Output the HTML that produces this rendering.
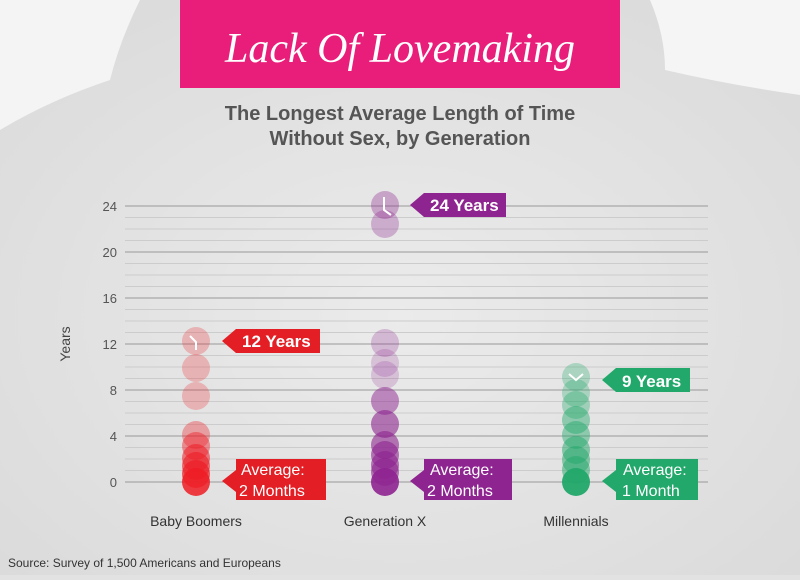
<!DOCTYPE html>
<html><head><meta charset="utf-8"><style>
body{margin:0;width:800px;height:575px;overflow:hidden;background:#e2e2e2;font-family:"Liberation Sans",sans-serif}
</style></head><body>
<svg width="800" height="575" xmlns="http://www.w3.org/2000/svg">
<defs><radialGradient id="bg" cx="50%" cy="55%" r="70%"><stop offset="0" stop-color="#ebebeb"/><stop offset="1" stop-color="#dadada"/></radialGradient></defs>
<rect width="800" height="575" fill="url(#bg)"/>
<path d="M0 0 H140 Q120 40 110 80 Q50 100 0 130Z" fill="#f4f4f4"/>
<path d="M800 0 H650 Q665 35 665 70 Q730 85 800 95Z" fill="#f5f5f5"/>
<rect x="180" y="0" width="440" height="88" fill="#e91e7a"/>
<text x="400" y="62" text-anchor="middle" fill="#fff" font-family="Liberation Serif,serif" font-style="italic" font-size="42">Lack Of Lovemaking</text>
<text x="400" y="120" text-anchor="middle" fill="#555" font-weight="bold" font-size="20">The Longest Average Length of Time</text>
<text x="400" y="145" text-anchor="middle" fill="#555" font-weight="bold" font-size="20">Without Sex, by Generation</text>
<g stroke="#ccc" stroke-width="1">
<line x1="125" x2="708" y1="217.5" y2="217.5"/><line x1="125" x2="708" y1="229" y2="229"/><line x1="125" x2="708" y1="240.5" y2="240.5"/>
<line x1="125" x2="708" y1="263.5" y2="263.5"/><line x1="125" x2="708" y1="275" y2="275"/><line x1="125" x2="708" y1="286.5" y2="286.5"/>
<line x1="125" x2="708" y1="309.5" y2="309.5"/><line x1="125" x2="708" y1="321" y2="321"/><line x1="125" x2="708" y1="332.5" y2="332.5"/>
<line x1="125" x2="708" y1="355.5" y2="355.5"/><line x1="125" x2="708" y1="367" y2="367"/><line x1="125" x2="708" y1="378.5" y2="378.5"/>
<line x1="125" x2="708" y1="401.5" y2="401.5"/><line x1="125" x2="708" y1="413" y2="413"/><line x1="125" x2="708" y1="424.5" y2="424.5"/>
<line x1="125" x2="708" y1="447.5" y2="447.5"/><line x1="125" x2="708" y1="459" y2="459"/><line x1="125" x2="708" y1="470.5" y2="470.5"/>
</g>
<g stroke="#999" stroke-width="1">
<line x1="125" x2="708" y1="206" y2="206"/><line x1="125" x2="708" y1="252" y2="252"/><line x1="125" x2="708" y1="298" y2="298"/>
<line x1="125" x2="708" y1="344" y2="344"/><line x1="125" x2="708" y1="390" y2="390"/><line x1="125" x2="708" y1="436" y2="436"/><line x1="125" x2="708" y1="482" y2="482"/>
</g>
<g fill="#555" font-size="13" text-anchor="end">
<text x="117" y="211">24</text><text x="117" y="257">20</text><text x="117" y="303">16</text><text x="117" y="349">12</text><text x="117" y="395">8</text><text x="117" y="441">4</text><text x="117" y="487">0</text>
</g>
<text transform="translate(70,344) rotate(-90)" text-anchor="middle" fill="#444" font-size="14">Years</text>
<g fill="#ee1c25">
<circle cx="196" cy="341" r="14" opacity=".25"/><circle cx="196" cy="368" r="14" opacity=".25"/><circle cx="196" cy="396" r="14" opacity=".25"/>
<circle cx="196" cy="435" r="14" opacity=".35"/><circle cx="196" cy="446" r="14" opacity=".45"/><circle cx="196" cy="458" r="14" opacity=".55"/>
<circle cx="196" cy="466" r="14" opacity=".6"/><circle cx="196" cy="474" r="14" opacity=".7"/><circle cx="196" cy="482" r="14" opacity=".85"/>
</g>
<path d="M190 336 L196 342 L196 350" stroke="#fff" stroke-width="2" fill="none"/>
<g fill="#8e2490">
<circle cx="385" cy="205" r="14" opacity=".35"/><circle cx="385" cy="224" r="14" opacity=".3"/>
<circle cx="385" cy="343" r="14" opacity=".25"/><circle cx="385" cy="363" r="14" opacity=".2"/><circle cx="385" cy="375" r="14" opacity=".2"/>
<circle cx="385" cy="401" r="14" opacity=".5"/><circle cx="385" cy="424" r="14" opacity=".6"/><circle cx="385" cy="445" r="14" opacity=".6"/>
<circle cx="385" cy="455" r="14" opacity=".6"/><circle cx="385" cy="465" r="14" opacity=".6"/><circle cx="385" cy="472" r="14" opacity=".6"/><circle cx="385" cy="482" r="14" opacity=".9"/>
</g>
<path d="M384 197 L384 210 L391 215" stroke="#fff" stroke-width="2" fill="none"/>
<g fill="#22a86a">
<circle cx="576" cy="377" r="14" opacity=".3"/><circle cx="576" cy="393" r="14" opacity=".3"/><circle cx="576" cy="405" r="14" opacity=".35"/>
<circle cx="576" cy="420" r="14" opacity=".45"/><circle cx="576" cy="435" r="14" opacity=".45"/><circle cx="576" cy="450" r="14" opacity=".5"/>
<circle cx="576" cy="460" r="14" opacity=".5"/><circle cx="576" cy="470" r="14" opacity=".5"/><circle cx="576" cy="482" r="14" opacity=".95"/>
</g>
<path d="M569 374 L576 380 L583 374" stroke="#fff" stroke-width="2" fill="none"/>
<path d="M222 341 L236 329 H320 V353 H236Z" fill="#e31e24"/>
<text x="242" y="347" fill="#fff" font-weight="bold" font-size="17">12 Years</text>
<path d="M222 481 L236 470 V459 H326 V500 H236 V492Z" fill="#e31e24"/>
<text x="241" y="475" fill="#fff" font-size="16">Average:</text><text x="239" y="496" fill="#fff" font-size="16">2 Months</text>
<path d="M410 205 L424 193 H506 V217 H424Z" fill="#8e2490"/>
<text x="430" y="211" fill="#fff" font-weight="bold" font-size="17">24 Years</text>
<path d="M410 481 L424 470 V459 H512 V500 H424 V492Z" fill="#8e2490"/>
<text x="430" y="475" fill="#fff" font-size="16">Average:</text><text x="427" y="496" fill="#fff" font-size="16">2 Months</text>
<path d="M602 380 L616 368 H690 V392 H616Z" fill="#22a86a"/>
<text x="622" y="387" fill="#fff" font-weight="bold" font-size="17">9 Years</text>
<path d="M602 481 L616 470 V459 H698 V500 H616 V492Z" fill="#22a86a"/>
<text x="623" y="475" fill="#fff" font-size="16">Average:</text><text x="622" y="496" fill="#fff" font-size="16">1 Month</text>
<g fill="#333" font-size="14" text-anchor="middle">
<text x="196" y="526">Baby Boomers</text><text x="385" y="526">Generation X</text><text x="576" y="526">Millennials</text>
</g>
<text x="8" y="567" fill="#333" font-size="12">Source: Survey of 1,500 Americans and Europeans</text>
</svg>
</body></html>
